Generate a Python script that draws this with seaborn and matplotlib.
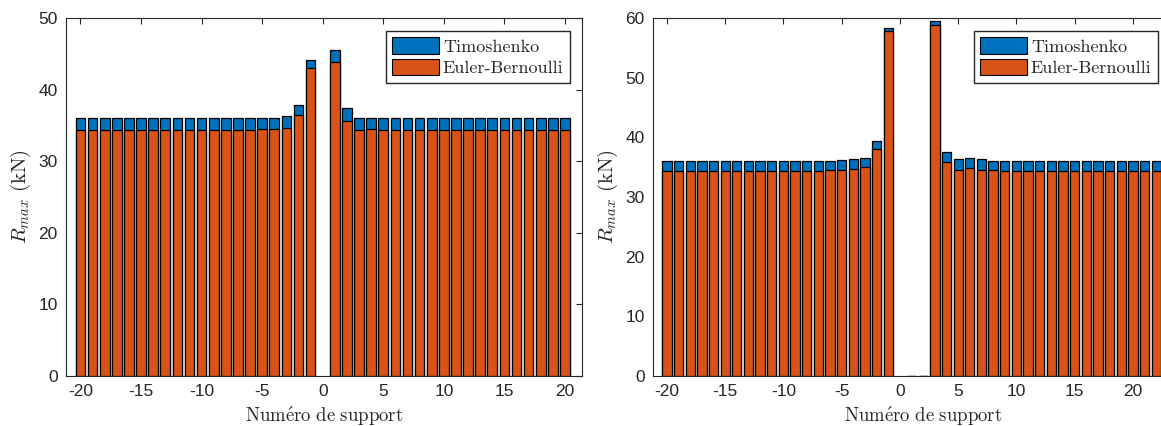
import numpy as np
import pandas as pd
import seaborn as sns
import matplotlib.pyplot as plt
from matplotlib.patches import Patch

# support numbers
supports_left = list(range(-20, 21))
supports_right = list(range(-20, 25))

nan = np.nan

# left panel: max reaction (kN)
timo_left = [36.0, 36.0, 36.0, 36.0, 36.0, 36.0, 36.0, 36.0, 36.0, 36.0,
             36.0, 36.0, 36.0, 36.0, 36.0, 36.05, 36.1, 36.3, 37.8, 44.2,
             nan, 45.5, 37.4, 36.0, 36.1, 36.0, 36.0, 36.0, 36.0, 36.0,
             36.0, 36.0, 36.0, 36.0, 36.0, 36.0, 36.0, 36.0, 36.0, 36.0, 36.0]
euler_left = [34.4, 34.4, 34.4, 34.4, 34.4, 34.4, 34.4, 34.4, 34.4, 34.4,
              34.4, 34.4, 34.4, 34.4, 34.4, 34.45, 34.5, 34.7, 36.4, 43.0,
              nan, 43.8, 35.6, 34.4, 34.5, 34.4, 34.4, 34.4, 34.4, 34.4,
              34.4, 34.4, 34.4, 34.4, 34.4, 34.4, 34.4, 34.4, 34.4, 34.4, 34.4]

# right panel: max reaction (kN)
timo_right = [36.0, 36.0, 36.0, 36.0, 36.0, 36.0, 36.0, 36.0, 36.0, 36.0,
              36.0, 36.0, 36.0, 36.0, 36.1, 36.25, 36.4, 36.6, 39.3, 58.3,
              nan, 0.0, 0.0, 59.5, 37.6, 36.3, 36.45, 36.3, 36.1, 36.0,
              36.0, 36.0, 36.0, 36.0, 36.0, 36.0, 36.0, 36.0, 36.0, 36.0,
              36.0, 36.0, 36.0, 36.0, 36.0]
euler_right = [34.4, 34.4, 34.4, 34.4, 34.4, 34.4, 34.4, 34.4, 34.4, 34.4,
               34.4, 34.4, 34.4, 34.4, 34.5, 34.6, 34.75, 35.0, 38.0, 57.8,
               nan, 0.0, 0.0, 58.9, 35.8, 34.6, 34.85, 34.6, 34.5, 34.4,
               34.4, 34.4, 34.4, 34.4, 34.4, 34.4, 34.4, 34.4, 34.4, 34.4,
               34.4, 34.4, 34.4, 34.4, 34.4]

series_names = ['Timoshenko', 'Euler-Bernoulli']
colors = ['#0072BD', '#D95319']

sns.set_style('white')
plt.rcParams['font.family'] = ['Liberation Sans', 'DejaVu Sans']
plt.rcParams['mathtext.fontset'] = 'cm'
plt.rcParams['axes.unicode_minus'] = False
plt.rcParams['xtick.direction'] = 'in'
plt.rcParams['ytick.direction'] = 'in'
plt.rcParams['axes.edgecolor'] = '#262626'
plt.rcParams['axes.linewidth'] = 0.8

fig = plt.figure(figsize=(11.61, 4.26), dpi=100)
ax_left = fig.add_axes([0.0568, 0.1174, 0.4444, 0.8404])
ax_right = fig.add_axes([0.5624, 0.1174, 0.4656, 0.8404])


def draw_panel(ax, supports, timo, euler, ymax, xlim, legend_corner):
    df = pd.DataFrame({'support': supports, 'Timoshenko': timo, 'Euler-Bernoulli': euler})
    # Timoshenko drawn first, Euler-Bernoulli overlaid in front
    for name, col in zip(series_names, colors):
        sub = df.dropna(subset=[name])
        sns.barplot(data=sub, x='support', y=name, native_scale=True, ax=ax,
                    color=col, saturation=1, errorbar=None, width=0.8,
                    edgecolor='black', linewidth=0.9)
    ax.set_xlim(*xlim)
    ax.set_ylim(0, ymax)
    ax.set_xticks(np.arange(-20, 25, 5))
    ax.set_yticks(np.arange(0, ymax + 1, 10))
    ax.tick_params(axis='both', labelsize=12.5, length=4, width=0.8,
                   color='#262626', top=True, right=True, pad=6)
    ax.set_xlabel(r'$\mathrm{Num\acute{e}ro\ de\ support}$', fontsize=13.5, labelpad=4)
    ax.set_ylabel(r'$R_{max}\ \mathrm{(kN)}$', fontsize=15, labelpad=4)
    for s in ax.spines.values():
        s.set_visible(True)
    handles = [Patch(facecolor=c, edgecolor='black', linewidth=0.8) for c in colors]
    ax.legend(handles, series_names, loc='upper right', fancybox=False,
              framealpha=1, edgecolor='#262626', handlelength=2.6,
              handleheight=1.0, handletextpad=0.2, borderpad=0.35,
              labelspacing=0.25, borderaxespad=0,
              bbox_to_anchor=legend_corner, bbox_transform=fig.transFigure,
              prop={'family': 'cmr10', 'size': 13})


draw_panel(ax_left, supports_left, timo_left, euler_left, 50, (-21.2, 21.4),
           (0.491, 0.927))
draw_panel(ax_right, supports_right, timo_right, euler_right, 60, (-21.2, 25.2),
           (0.9974, 0.927))

plt.savefig('out.png', dpi=100)
plt.close()
